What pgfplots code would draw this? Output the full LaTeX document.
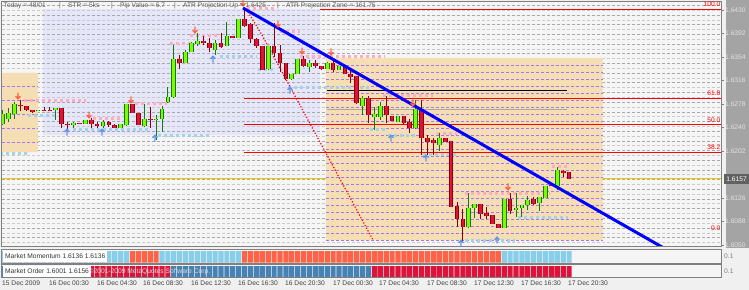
\documentclass[border=0pt]{standalone}
\usepackage{pgfplots}
\pgfplotsset{compat=1.18}
\usepackage{pgfplotstable}
\usepackage{fontspec}
\setmainfont{Liberation Sans}

\definecolor{bgout}{HTML}{F0F0F0}
\definecolor{chartbg}{HTML}{F5F5F5}
\definecolor{wheatc}{HTML}{F5DEB3}
\definecolor{lavc}{HTML}{E6E6FA}
\definecolor{gridA}{HTML}{A8A8A8}
\definecolor{gridB}{HTML}{CACACA}
\definecolor{purpc}{HTML}{A477F0}
\definecolor{pinkc}{HTML}{FFADBE}
\definecolor{lblue}{HTML}{A3D3E8}
\definecolor{bullfill}{HTML}{7CFC00}
\definecolor{bulledge}{HTML}{127A12}
\definecolor{bearfill}{HTML}{DC143C}
\definecolor{bearedge}{HTML}{8B0000}
\definecolor{goldc}{HTML}{F5C400}
\definecolor{arrred}{HTML}{FF6347}
\definecolor{arrblue}{HTML}{6495ED}
\definecolor{skyc}{HTML}{87CEEB}
\definecolor{tomc}{HTML}{FF6347}
\definecolor{steelc}{HTML}{4682B4}
\definecolor{crimc}{HTML}{DC143C}
\definecolor{colgray}{HTML}{A4A4A4}
\definecolor{framec}{HTML}{808080}
\definecolor{ptext}{HTML}{E2E2E2}
\definecolor{toptext}{HTML}{5E5E5E}

\newcommand\tf{\fontsize{6.7}{7}\selectfont}

\pgfdeclareplotmark{dnarr}{%
 \pgfpathmoveto{\pgfpoint{0bp}{6.5bp}}%
 \pgfpathlineto{\pgfpoint{0bp}{0.3bp}}%
 \pgfpathmoveto{\pgfpoint{-2.4bp}{2.8bp}}%
 \pgfpathlineto{\pgfpoint{0bp}{0.2bp}}%
 \pgfpathlineto{\pgfpoint{2.4bp}{2.8bp}}%
 \pgfusepathqstroke}
\pgfdeclareplotmark{uparr}{%
 \pgfpathmoveto{\pgfpoint{0bp}{-6.5bp}}%
 \pgfpathlineto{\pgfpoint{0bp}{-0.3bp}}%
 \pgfpathmoveto{\pgfpoint{-2.4bp}{-2.8bp}}%
 \pgfpathlineto{\pgfpoint{0bp}{-0.2bp}}%
 \pgfpathlineto{\pgfpoint{2.4bp}{-2.8bp}}%
 \pgfusepathqstroke}
\pgfdeclareplotmark{nothing}{}

% bullish candles: index open high low close
\pgfplotstableread{
i o h l c
0 1.62457 1.62683 1.62441 1.62619
1 1.62538 1.62716 1.62489 1.62635
2 1.62619 1.62813 1.62538 1.62780
6 1.62667 1.62683 1.62667 1.62683
9 1.62683 1.62716 1.62522 1.62716
12 1.62441 1.62489 1.62392 1.62473
14 1.62457 1.62522 1.62457 1.62522
17 1.62425 1.62522 1.62392 1.62489
20 1.62392 1.62457 1.62392 1.62457
21 1.62441 1.62780 1.62425 1.62780
24 1.62425 1.62780 1.62408 1.62538
26 1.62522 1.62602 1.62198 1.62538
27 1.62538 1.62748 1.62328 1.62699
28 1.62813 1.63055 1.62796 1.62893
29 1.62893 1.63734 1.62877 1.63508
31 1.63443 1.63654 1.63443 1.63621
32 1.63621 1.63783 1.63621 1.63767
33 1.63751 1.63928 1.63718 1.63799
36 1.63654 1.63815 1.63573 1.63767
38 1.63718 1.64106 1.63718 1.63880
40 1.63848 1.64155 1.63848 1.64155
45 1.63346 1.63718 1.63330 1.63718
49 1.63185 1.63265 1.63168 1.63265
50 1.63265 1.63508 1.63265 1.63508
52 1.63379 1.63492 1.63298 1.63443
55 1.63346 1.63459 1.63346 1.63443
57 1.63330 1.63395 1.63330 1.63395
61 1.62748 1.62910 1.62602 1.62877
63 1.62570 1.62732 1.62360 1.62619
64 1.62570 1.62813 1.62522 1.62748
67 1.62489 1.62586 1.62489 1.62586
70 1.62392 1.62845 1.62376 1.62699
74 1.62117 1.62311 1.62020 1.62231
79 1.60791 1.61341 1.60775 1.61099
80 1.61099 1.61163 1.60937 1.61163
85 1.60775 1.61244 1.60775 1.61244
87 1.61066 1.61341 1.60953 1.61099
88 1.61099 1.61147 1.60953 1.61147
89 1.61147 1.61293 1.61066 1.61228
91 1.61179 1.61277 1.61050 1.61277
92 1.61260 1.61454 1.61260 1.61454
94 1.61454 1.61762 1.61390 1.61713
}\bulltab

% bearish candles
\pgfplotstableread{
i o h l c
3 1.62764 1.62845 1.62667 1.62748
4 1.62748 1.62748 1.62667 1.62683
5 1.62683 1.62683 1.62635 1.62651
7 1.62683 1.62732 1.62667 1.62667
8 1.62683 1.62732 1.62667 1.62667
10 1.62716 1.62716 1.62392 1.62457
11 1.62457 1.62489 1.62360 1.62441
13 1.62473 1.62473 1.62457 1.62457
15 1.62522 1.62554 1.62392 1.62457
16 1.62457 1.62489 1.62392 1.62425
18 1.62489 1.62505 1.62408 1.62441
19 1.62441 1.62457 1.62392 1.62392
22 1.62780 1.62780 1.62635 1.62635
23 1.62635 1.62635 1.62441 1.62441
25 1.62538 1.62732 1.62392 1.62522
30 1.63508 1.63573 1.63346 1.63443
34 1.63799 1.63880 1.63734 1.63767
35 1.63767 1.63848 1.63621 1.63686
37 1.63767 1.63928 1.63686 1.63702
39 1.63880 1.63880 1.63848 1.63848
41 1.64155 1.64316 1.64025 1.64042
42 1.64074 1.64090 1.63767 1.63831
43 1.63831 1.63848 1.63686 1.63718
44 1.63718 1.63718 1.63330 1.63330
46 1.63718 1.64090 1.63540 1.63605
47 1.63605 1.63734 1.63298 1.63443
48 1.63443 1.63443 1.63168 1.63185
51 1.63508 1.63556 1.63379 1.63395
53 1.63443 1.63492 1.63362 1.63395
54 1.63395 1.63395 1.63330 1.63346
56 1.63443 1.63524 1.63298 1.63330
58 1.63395 1.63395 1.63265 1.63265
59 1.63265 1.63330 1.63120 1.63217
60 1.63233 1.63233 1.62780 1.62796
62 1.62877 1.62910 1.62473 1.62602
65 1.62748 1.62910 1.62473 1.62602
66 1.62586 1.62586 1.62505 1.62505
68 1.62586 1.62586 1.62441 1.62473
69 1.62489 1.62538 1.62311 1.62392
71 1.62699 1.62845 1.61956 1.62231
72 1.62231 1.62279 1.61956 1.62166
73 1.62198 1.62231 1.61956 1.62150
75 1.62231 1.62231 1.62166 1.62166
76 1.62182 1.62182 1.61115 1.61115
77 1.61131 1.61196 1.60791 1.60921
78 1.60921 1.61082 1.60533 1.60791
81 1.61163 1.61163 1.60921 1.61002
82 1.61018 1.61115 1.60921 1.60969
83 1.60985 1.60985 1.60840 1.60840
84 1.60840 1.60840 1.60775 1.60775
86 1.61244 1.61341 1.61002 1.61050
90 1.61244 1.61277 1.61147 1.61163
93 1.61471 1.61471 1.61454 1.61454
95 1.61697 1.61713 1.61600 1.61665
96 1.61681 1.61681 1.61568 1.61568
}\beartab

\pgfplotstableread{
y
1.64375
1.64218
1.64062
1.63905
1.63749
1.63592
1.63435
1.63279
1.63122
1.62966
1.62809
1.62652
1.62496
1.62339
1.62183
1.62026
1.61869
1.61713
1.61556
1.61400
1.61243
1.61086
1.60930
1.60773
1.60617
}\gridAtab

\pgfplotstableread{
y
1.64297
1.64140
1.63984
1.63827
1.63670
1.63514
1.63357
1.63201
1.63044
1.62887
1.62731
1.62574
1.62418
1.62261
1.62104
1.61948
1.61791
1.61635
1.61478
1.61321
1.61165
1.61008
1.60852
1.60695
1.60538
}\gridBtab

\pgfplotstableread{
y
1.63411
1.63298
1.63185
1.63072
1.62958
1.62845
1.62732
1.62619
1.62506
1.62392
1.62279
1.62166
1.62053
1.61940
1.61826
1.61713
1.61600
1.61487
1.61374
1.61260
1.61147
1.61034
1.60921
1.60808
1.60694
1.60581
}\purpBig

\pgfplotstableread{
y
1.63071
1.62845
1.62619
1.62392
1.62166
}\purpSmall

\pgfplotstableread{
a b y
3.61 14.12 1.62845
15.30 19.88 1.62538
22.42 27.85 1.62796
28.36 31.75 1.63751
31.75 36.32 1.63896
41.41 46.49 1.64333
47.00 50.39 1.63961
50.39 64.80 1.63556
64.46 72.93 1.62926
73.61 77.00 1.62311
78.36 92.76 1.61341
93.10 95.81 1.61762
}\pinktab

\pgfplotstableread{
a b y
-0.46 4.12 1.61988
4.29 8.86 1.62602
11.92 24.97 1.62376
26.32 35.14 1.62279
36.83 43.10 1.63556
43.27 45.81 1.63346
48.36 62.59 1.63055
62.25 65.14 1.62376
65.31 70.22 1.62279
71.24 77.00 1.61956
78.36 86.83 1.60565
87.34 95.81 1.60953
}\bluetab

\pgfplotstableread{
i y
2.59 1.62861
14.63 1.62554
21.75 1.62797
32.59 1.63928
40.73 1.64365
46.66 1.64025
50.73 1.63589
55.64 1.63573
69.54 1.62748
85.64 1.61390
}\redarr

\pgfplotstableread{
i y
10.90 1.62376
16.83 1.62376
25.81 1.62279
35.64 1.63556
48.69 1.63055
65.81 1.62279
71.75 1.61956
77.68 1.60581
83.78 1.60630
}\bluearr

% indicator states: m = 1 momentum up (sky) / 0 down (tomato); o = 1 steel / 0 crimson
\pgfplotstableread{
i m o
0 1 1
1 1 1
2 1 1
3 1 1
4 1 1
5 1 0
6 1 0
7 1 0
8 1 0
9 1 0
10 1 0
11 1 0
12 1 0
13 1 0
14 1 0
15 1 0
16 1 0
17 1 0
18 1 0
19 1 0
20 1 0
21 1 0
22 0 0
23 0 0
24 0 0
25 0 0
26 0 0
27 1 0
28 1 0
29 1 1
30 1 1
31 1 1
32 1 1
33 1 1
34 1 1
35 1 1
36 1 1
37 1 1
38 1 1
39 1 1
40 1 1
41 0 1
42 0 1
43 0 1
44 0 1
45 0 1
46 0 1
47 0 1
48 0 1
49 0 1
50 0 1
51 0 1
52 0 1
53 0 1
54 0 1
55 0 1
56 0 1
57 0 1
58 0 1
59 0 1
60 0 1
61 0 1
62 0 1
63 0 0
64 0 0
65 0 0
66 0 0
67 0 0
68 0 0
69 0 0
70 0 0
71 0 0
72 0 0
73 0 0
74 0 0
75 0 0
76 0 0
77 0 0
78 0 0
79 0 0
80 0 0
81 0 0
82 0 0
83 0 0
84 0 0
85 1 0
86 1 0
87 1 0
88 1 0
89 1 0
90 1 0
91 1 0
92 1 0
93 1 0
94 1 0
95 1 0
96 1 0
}\paneltab

\pgfplotsset{
 chartx/.style={scale only axis, width=720.2bp, xmin=-0.2373, xmax=121.83,
   axis background/.style={fill=chartbg}, axis on top,
   axis line style={draw=framec, line width=0.9bp}},
 hseg/.style={only marks, mark=nothing, forget plot},
}

\begin{document}
\begin{tikzpicture}
\useasboundingbox (0,0) rectangle (749bp,-290bp);
\fill[bgout] (0,0) rectangle (749bp,-290bp);
\fill[colgray] (726bp,0bp) rectangle (749bp,-248bp);

% ---------------- main price chart ----------------
\begin{axis}[chartx, at={(1.3bp,-1.2bp)}, anchor=north west, height=245.6bp,
  ymin=1.60471, ymax=1.64443,
  xtick=\empty,
  ytick={1.6050,1.6088,1.6126,1.6202,1.6240,1.6278,1.6316,1.6354,1.6392,1.6430},
  ytick pos=right, yticklabel pos=right, tick align=outside, major tick length=2.5bp,
  ytick style={draw=framec, line width=0.7bp},
  yticklabel style={font=\tf, text=ptext, inner sep=1bp},
  yticklabel={\pgfmathprintnumber[fixed,fixed zerofill,precision=4,assume math mode=true]{\tick}},
  clip=true]

% lavender zone
\addplot[fill=lavc, draw=none, forget plot] coordinates {(6.83,1.64316) (53.78,1.64316) (53.78,1.62279) (6.83,1.62279) (6.83,1.64316)};

% dashed grid
\addplot[hseg, error bars/.cd, x dir=plus, x fixed=124, error mark=none,
  error bar style={draw=gridA, line width=0.8bp, dash pattern=on 3bp off 2bp}]
  table[x expr=-1, y=y] {\gridAtab};
\addplot[hseg, error bars/.cd, x dir=plus, x fixed=124, error mark=none,
  error bar style={draw=gridB, line width=0.8bp, dash pattern=on 3bp off 2bp}]
  table[x expr=-1, y=y] {\gridBtab};

% bid line
\addplot[goldc, line width=1bp, forget plot] coordinates {(-1,1.61568) (125,1.61568)};

% wheat zones
\addplot[fill=wheatc, draw=none, forget plot] coordinates {(-1,1.63282) (5.98,1.63282) (5.98,1.62004) (-1,1.62004) (-1,1.63282)};
\addplot[fill=wheatc, draw=none, forget plot] coordinates {(54.8,1.63524) (101.7,1.63524) (101.7,1.60581) (54.8,1.60581) (54.8,1.63524)};

% purple levels
\addplot[hseg, error bars/.cd, x dir=plus, x fixed=46.9, error mark=none,
  error bar style={draw=purpc, line width=0.9bp, dash pattern=on 3bp off 2bp}]
  table[x expr=54.8, y=y] {\purpBig};
\addplot[hseg, error bars/.cd, x dir=plus, x fixed=7.0, error mark=none,
  error bar style={draw=purpc, line width=0.9bp, dash pattern=on 3bp off 2bp}]
  table[x expr=-1, y=y] {\purpSmall};

% fibonacci levels
\addplot[red, line width=1bp, forget plot] coordinates {(53.78,1.64316) (125,1.64316)};
\addplot[red, line width=1bp, forget plot] coordinates {(40.9,1.62877) (125,1.62877)};
\addplot[red, line width=1bp, forget plot] coordinates {(40.9,1.62441) (125,1.62441)};
\addplot[red, line width=1bp, forget plot] coordinates {(40.9,1.62004) (125,1.62004)};
\addplot[black, line width=1bp, forget plot] coordinates {(54.92,1.62991) (95.64,1.62991)};
\addplot[color=gridA, line width=1bp, forget plot] coordinates {(54.92,1.62699) (95.64,1.62699)};

% resistance / support dotted segments
\addplot[hseg, error bars/.cd, x dir=plus, x explicit, error mark=none,
  error bar style={draw=pinkc, line width=3bp, dash pattern=on 3bp off 3bp}]
  table[x=a, y=y, x error expr=\thisrow{b}-\thisrow{a}] {\pinktab};
\addplot[hseg, error bars/.cd, x dir=plus, x explicit, error mark=none,
  error bar style={draw=lblue, line width=3bp, dash pattern=on 3bp off 3bp}]
  table[x=a, y=y, x error expr=\thisrow{b}-\thisrow{a}] {\bluetab};

% red dotted projection
\addplot[red, line width=1.2bp, dash pattern=on 1.2bp off 1.8bp, forget plot]
  coordinates {(41.58,1.64268) (43.95,1.63896) (62.76,1.60581)};

% candles: wicks
\addplot[hseg, error bars/.cd, y dir=plus, y explicit, error mark=none,
  error bar style={draw=bulledge, line width=1bp}]
  table[x=i, y=l, y error expr=\thisrow{h}-\thisrow{l}] {\bulltab};
\addplot[hseg, error bars/.cd, y dir=plus, y explicit, error mark=none,
  error bar style={draw=bearedge, line width=1bp}]
  table[x=i, y=l, y error expr=\thisrow{h}-\thisrow{l}] {\beartab};
% bodies
\addplot[hseg, error bars/.cd, y dir=plus, y explicit, error mark=none,
  error bar style={draw=bulledge, line width=4.7bp}]
  table[x=i, y=o, y error expr=\thisrow{c}-\thisrow{o}] {\bulltab};
\addplot[hseg, error bars/.cd, y dir=plus, y explicit, error mark=none,
  error bar style={draw=bullfill, line width=2.7bp}]
  table[x=i, y=o, y error expr=\thisrow{c}-\thisrow{o}] {\bulltab};
\addplot[hseg, error bars/.cd, y dir=plus, y explicit, error mark=none,
  error bar style={draw=bearedge, line width=4.7bp}]
  table[x=i, y=c, y error expr=\thisrow{o}-\thisrow{c}] {\beartab};
\addplot[hseg, error bars/.cd, y dir=plus, y explicit, error mark=none,
  error bar style={draw=bearfill, line width=2.7bp}]
  table[x=i, y=c, y error expr=\thisrow{o}-\thisrow{c}] {\beartab};

% trend line
\addplot[color=blue, line width=3bp, forget plot] coordinates {(40.73,1.64333) (114.8,1.60301)};

% fractal arrows
\addplot[only marks, mark=dnarr, color=arrred, mark options={line width=1.3bp}, forget plot]
  table[x=i, y=y] {\redarr};
\addplot[only marks, mark=uparr, color=arrblue, mark options={line width=1.3bp}, forget plot]
  table[x=i, y=y] {\bluearr};
\end{axis}

% ---------------- indicator panel 1 ----------------
\begin{axis}[chartx, at={(1.3bp,-249.5bp)}, anchor=north west, height=13.8bp,
  ymin=-0.05, ymax=1.08, xtick=\empty, ytick=\empty]
\addplot[ybar, bar width=0.88, bar shift=0pt, fill=skyc, draw=none]
  table[x=i, y expr=0.95*\thisrow{m}] {\paneltab};
\addplot[ybar, bar width=0.88, bar shift=0pt, fill=tomc, draw=none]
  table[x=i, y expr=0.95*(1-\thisrow{m})] {\paneltab};
\end{axis}

% ---------------- indicator panel 2 ----------------
\begin{axis}[chartx, at={(1.3bp,-264.5bp)}, anchor=north west, height=13.2bp,
  ymin=-0.05, ymax=1.08, xtick=\empty, ytick=\empty]
\addplot[ybar, bar width=0.88, bar shift=0pt, fill=steelc, draw=none]
  table[x=i, y expr=0.95*\thisrow{o}] {\paneltab};
\addplot[ybar, bar width=0.88, bar shift=0pt, fill=crimc, draw=none]
  table[x=i, y expr=0.95*(1-\thisrow{o})] {\paneltab};
\end{axis}

% ---------------- texts ----------------
\begin{scope}[every node/.style={font=\tf, inner sep=0pt, anchor=west}]
\node[text=toptext] at (3.5bp,-5.3bp) {Today = 48/01};
\node[text=toptext] at (59bp,-5.3bp) {|};
\node[text=toptext] at (68bp,-5.3bp) {STR = 5ks};
\node[text=toptext] at (111bp,-5.3bp) {|};
\node[text=toptext] at (120bp,-5.3bp) {Pip Value = 6.7};
\node[text=toptext] at (174bp,-5.3bp) {|};
\node[text=toptext] at (183bp,-5.3bp) {ATR Projection Up = 1.6425};
\node[text=toptext] at (277bp,-5.3bp) {|};
\node[text=toptext] at (286bp,-5.3bp) {ATR Projection Zone = 161.75};

\node[text=red, anchor=east] at (720.5bp,-4.3bp) {100.0};
\node[text=red, anchor=east] at (720.5bp,-93.5bp) {61.8};
\node[text=red, anchor=east] at (720.5bp,-120bp) {50.0};
\node[text=red, anchor=east] at (720.5bp,-147bp) {38.2};
\node[text=red, anchor=east] at (720.5bp,-228bp) {0.0};

\node[fill=black!62, text=white, anchor=center, minimum width=26bp, minimum height=10.5bp] at (736.5bp,-179.2bp) {1.6157};

\node[text=framec] at (724bp,-256.5bp) {0.1};
\node[text=framec] at (724bp,-271.5bp) {0.1};

\node[text=white!70!gray] at (88.5bp,-271.6bp) {\textcopyright 2001-2009 MetaQuotes Software Corp.};
\node[fill=white, text=black!80, inner xsep=2.2bp, minimum height=10.7bp] at (2.7bp,-256.3bp) {Market Momentum 1.6136 1.6136};
\node[fill=white, text=black!80, inner xsep=2.2bp, minimum height=10.7bp] at (2.7bp,-271.3bp) {Market Order 1.6001 1.6156};

\node[text=black!75] at (2bp,-283.4bp) {15 Dec 2009};
\node[text=black!75] at (49bp,-283.4bp) {16 Dec 00:30};
\node[text=black!75] at (97bp,-283.4bp) {16 Dec 04:30};
\node[text=black!75] at (143bp,-283.4bp) {16 Dec 08:30};
\node[text=black!75] at (191bp,-283.4bp) {16 Dec 12:30};
\node[text=black!75] at (238bp,-283.4bp) {16 Dec 16:30};
\node[text=black!75] at (285bp,-283.4bp) {16 Dec 20:30};
\node[text=black!75] at (333bp,-283.4bp) {17 Dec 00:30};
\node[text=black!75] at (379bp,-283.4bp) {17 Dec 04:30};
\node[text=black!75] at (427bp,-283.4bp) {17 Dec 08:30};
\node[text=black!75] at (474bp,-283.4bp) {17 Dec 12:30};
\node[text=black!75] at (521bp,-283.4bp) {17 Dec 16:30};
\node[text=black!75] at (568bp,-283.4bp) {17 Dec 20:30};
\end{scope}
\end{tikzpicture}
\end{document}
